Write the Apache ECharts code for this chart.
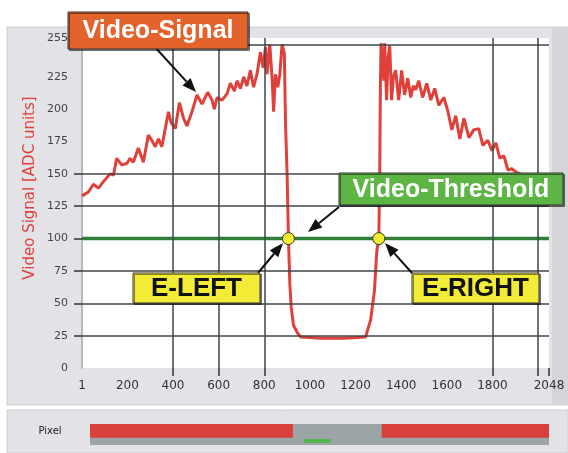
<!DOCTYPE html>
<html>
<head>
<meta charset="UTF-8">
<title>Video Signal</title>
<script src="https://cdn.jsdelivr.net/npm/echarts@6.0.0/dist/echarts.min.js"></script>
<style>
body{margin:0;background:#fff;}
#main{width:568px;height:453px;}
</style>
</head>
<body>
<div id="main"></div>
<script type="text/javascript">
// signal: pixel index / ADC value
var signalPixels = [1,7,29,51,73,95,124,139,153,175,197,212,226,248,270,292,307,322,336,351,380,391,410,428,446,461,483,505,527,552,571,581,593,615,637,651,669,681,695,710,724,739,753,768,783,795,805,812,824,834,841,849,859,868,878,888,893,900,906,912,918,928,946,959,1050,1150,1244,1266,1283,1293,1302,1306,1309,1312,1319,1324,1328,1336,1343,1350,1358,1366,1376,1389,1402,1415,1429,1442,1453,1464,1477,1494,1512,1530,1547,1565,1587,1604,1622,1639,1657,1675,1697,1718,1740,1758,1780,1798,1815,1833,1850,1868,1885,1907,1925];
var signalValues = [133,132,136,142,139,144,150,149,162,157,158,162,159,170,159,180,176,171,177,171,198,190,185,205,193,187,198,211,204,213,207,200,209,207,212,220,214,222,216,225,218,230,217,227,244,232,248,227,250,225,198,227,217,227,250,243,189,150,100,65,47,33,27,24,23,23,24,37,60,90,100,150,220,251,251,222,251,207,240,249,207,225,230,207,230,211,224,209,218,215,222,209,220,207,216,203,209,199,184,195,177,193,178,184,185,172,176,168,174,162,164,153,154,151,150];
var threshold = 100;
var edgePixels = [906, 1302];
var xLabelValues = [1,200,400,600,800,1000,1200,1400,1600,1800,2048];
var xTickValues = [400,600,800,1800,2000,2048];
var xGridValues = [400,600,800,1800,2000];
var yLabelValues = [0,25,50,75,100,125,150,175,200,225,255];
var yTickValues = [25,50,75,100,125,150];
var yGridValues = [25,50,75,125,150,250];
// pixel bar below the chart
var pixelRedRuns = [[1,906],[1302,2048]];
var pixelGreenRuns = [[955,1075]];

var myChart = echarts.init(document.getElementById('main'));

var signalData = signalPixels.map(function(p,i){ return [p, signalValues[i]]; });

function runRenderer(y0, y1, color){
	return function(params, api){
		var a = api.coord([api.value(0), y1]);
		var b = api.coord([api.value(1), y0]);
		return {type:'rect', shape:{x:a[0], y:a[1], width:b[0]-a[0], height:b[1]-a[1]}, style:{fill:color}};
	};
}

function arrow(x1,y1,x2,y2){
	var ang = Math.atan2(y2-y1, x2-x1), L = 14, W = 5.5;
	var bx = x2 - L*Math.cos(ang), by = y2 - L*Math.sin(ang);
	var px = -Math.sin(ang)*W, py = Math.cos(ang)*W;
	return [
		{type:'line', z:100, shape:{x1:x1,y1:y1,x2:bx,y2:by}, style:{stroke:'#111', lineWidth:2}},
		{type:'polygon', z:100, shape:{points:[[x2,y2],[bx+px,by+py],[bx-px,by-py]]}, style:{fill:'#111'}}
	];
}

function box(x,y,w,h,text,fill,color,size){
	return [
		{type:'rect', z:100, shape:{x:x,y:y,width:w,height:h},
			style:{fill:fill, stroke:'#333', lineWidth:1, shadowColor:'rgba(0,0,0,0.45)', shadowOffsetX:1.5, shadowOffsetY:1.5}},
		{type:'text', z:101, x:x+w/2, y:y+h/2+1,
			style:{text:text, fill:color, font:'bold '+size+'px "Liberation Sans", Arial, sans-serif', align:'center', verticalAlign:'middle'}}
	];
}

var graphics = [
	{type:'rect', z:-10, shape:{x:7,y:27,width:561,height:378}, style:{fill:'#e3e3e7', stroke:'#cfcfd3', lineWidth:1}},
	{type:'rect', z:-9, shape:{x:552,y:28,width:16,height:376}, style:{fill:'#d4d4d9'}},
	{type:'rect', z:-10, shape:{x:7,y:410,width:561,height:43}, style:{fill:'#e3e3e7', stroke:'#cfcfd3', lineWidth:1}},
	{type:'text', z:10, x:30, y:188, rotation:Math.PI/2,
		style:{text:'Video Signal [ADC units]', fill:'#e0403a', font:'15px "DejaVu Sans", sans-serif', align:'center', verticalAlign:'middle'}},
	{type:'text', z:10, x:50, y:431,
		style:{text:'Pixel', fill:'#222', font:'10px "DejaVu Sans", sans-serif', align:'center', verticalAlign:'middle'}}
];
graphics = graphics
	.concat(arrow(153,45,196,92))
	.concat(box(68,12,180,37,'Video-Signal','#e2642c','#fff',25))
	.concat(arrow(339,207,308,232))
	.concat(box(339,173,224,32,'Video-Threshold','#5db546','#fff',25))
	.concat(arrow(258,273,283,243))
	.concat(box(133,273,127,30,'E-LEFT','#f2ec36','#111',26))
	.concat(arrow(412,273,385,243))
	.concat(box(412,273,127,30,'E-RIGHT','#f2ec36','#111',26));

var option = {
	animation:false,
	backgroundColor:'#fff',
	grid:[
		{left:82, right:19, top:38, bottom:85, show:true, backgroundColor:'#fff', borderWidth:0},
		{left:90, right:19, top:424, height:21, show:true, backgroundColor:'#9ba4a7', borderWidth:0}
	],
	xAxis:[
		{
			type:'value', gridIndex:0, min:1, max:2048,
			axisLine:{show:false},
			splitLine:{show:false},
			axisTick:{show:true, customValues:xTickValues, length:8, lineStyle:{color:'#333', width:1.5}},
			axisLabel:{customValues:xLabelValues, margin:12, color:'#333', fontSize:12, fontFamily:'DejaVu Sans',
				formatter:function(v){ return String(v); }}
		},
		{type:'value', gridIndex:1, min:1, max:2048, show:false}
	],
	yAxis:[
		{
			type:'value', gridIndex:0, min:0, max:255,
			axisLine:{show:true, lineStyle:{color:'#b6babe', width:2}},
			splitLine:{show:false},
			axisTick:{show:true, customValues:yTickValues, length:8, lineStyle:{color:'#333', width:1.5}},
			axisLabel:{customValues:yLabelValues, margin:14, color:'#444', fontSize:11, fontFamily:'DejaVu Sans'}
		},
		{type:'value', gridIndex:1, min:0, max:1, show:false}
	],
	series:[
		{
			name:'grid', type:'line', data:[], z:1, silent:true,
			markLine:{
				silent:true, symbol:['none','none'], label:{show:false},
				lineStyle:{color:'#3e444a', width:1.5, type:'solid'},
				data:xGridValues.map(function(v){ return {xAxis:v}; })
					.concat(yGridValues.map(function(v){ return {yAxis:v}; }))
			}
		},
		{
			name:'Video-Signal', type:'line', data:signalData, z:3,
			symbol:'none', lineStyle:{color:'#e0403a', width:3}, itemStyle:{color:'#e0403a'}
		},
		{
			name:'Video-Threshold', type:'line', data:[[1,threshold],[2048,threshold]], z:4,
			symbol:'none', lineStyle:{color:'#2f7f3b', width:3.5}, itemStyle:{color:'#2f7f3b'}
		},
		{
			name:'Edges', type:'scatter', z:5,
			data:edgePixels.map(function(p){ return [p, threshold]; }),
			symbolSize:12, itemStyle:{color:'#f3ec2c', borderColor:'#333', borderWidth:1, opacity:1}
		},
		{
			name:'pixel-red', type:'custom', xAxisIndex:1, yAxisIndex:1, data:pixelRedRuns,
			encode:{x:[0,1]}, renderItem:runRenderer(0.34, 1, '#d9403b'), silent:true
		},
		{
			name:'pixel-green', type:'custom', xAxisIndex:1, yAxisIndex:1, data:pixelGreenRuns,
			encode:{x:[0,1]}, renderItem:runRenderer(0.1, 0.28, '#4fb848'), silent:true
		}
	],
	graphic:graphics
};
myChart.setOption(option);
</script>
</body>
</html>
